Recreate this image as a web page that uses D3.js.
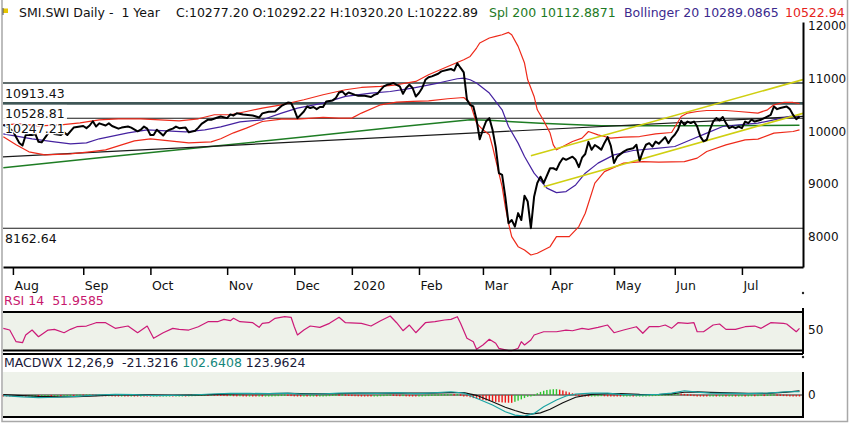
<!DOCTYPE html>
<html>
<head>
<meta charset="utf-8">
<script src="https://cdn.jsdelivr.net/npm/d3@7"></script>
<style>
body { margin: 0; background: #fff; }
svg { display: block; font-family: "DejaVu Sans", sans-serif; }
</style>
</head>
<body>
<div id="chart"></div>
<script>
// x is the trading session number, 0 = first session of Aug 2019
var monthLabels = ["Aug", "Sep", "Oct", "Nov", "Dec", "2020", "Feb", "Mar", "Apr", "May", "Jun", "Jul"];
var monthDays = [0, 22, 43, 67, 88, 106, 127, 147, 168, 188, 207, 228];
var priceTicks = [8000, 9000, 10000, 11000, 12000];

var closePts = [
[-3,10120],[-2,10100],[0,10000],[2,9780],[3,9730],[4,9930],[6,9930],[7,9950],[8,9800],[9,9790],
[11,9960],[12,10000],[13,9950],[15,9930],[16,9980],[17,9930],[19,10070],[22,10100],[23,10060],[24,10110],
[25,10190],[26,10090],[27,10150],[29,10110],[30,10150],[31,10100],[33,10050],[34,10070],[36,10090],[37,10070],
[39,10000],[40,10030],[41,10090],[42,10050],[43,9930],[44,9930],[45,10030],[47,9920],[48,10000],[49,10030],
[50,10050],[51,10090],[52,10060],[54,10070],[55,9980],[57,10010],[58,10070],[59,10140],[61,10220],[62,10220],
[64,10260],[65,10280],[67,10250],[68,10320],[69,10300],[70,10340],[72,10320],[75,10300],[77,10260],[78,10340],
[80,10370],[82,10375],[84,10480],[86,10545],[87,10535],[88,10410],[89,10250],[91,10375],[92,10470],[93,10440],
[94,10460],[95,10420],[96,10460],[97,10460],[98,10565],[100,10585],[101,10630],[102,10735],[103,10755],[104,10690],
[105,10735],[107,10690],[108,10675],[110,10675],[112,10650],[113,10690],[114,10710],[115,10785],[116,10850],[117,10880],
[118,10895],[119,10915],[120,10880],[121,10850],[122,10710],[123,10820],[124,10880],[125,10820],[126,10660],[127,10725],
[128,10820],[129,10975],[130,11025],[131,11040],[133,11090],[134,11135],[136,11165],[137,11180],[138,11150],[139,11290],
[140,11200],[141,11115],[142,10600],[143,10500],[144,10470],[145,10220],[146,9850],[147,10030],[148,10190],[149,10250],
[150,10030],[151,9700],[152,9210],[153,9175],[154,8760],[155,8260],[156,8320],[157,8195],[158,8450],[159,8320],
[160,8780],[161,8670],[162,8165],[163,8760],[164,9020],[165,9140],[166,9020],[168,9300],[169,9300],[170,9270],
[171,9400],[172,9490],[173,9460],[175,9520],[176,9460],[177,9320],[178,9500],[179,9570],[180,9800],[181,9650],
[182,9740],[183,9700],[184,9650],[185,9780],[186,9890],[187,9725],[188,9400],[189,9520],[191,9615],[192,9650],
[194,9680],[195,9745],[196,9445],[197,9615],[198,9745],[199,9775],[200,9710],[201,9805],[202,9765],[204,9890],
[205,9775],[206,9870],[207,9935],[208,10030],[209,10200],[210,10120],[211,10185],[212,10155],[213,10185],[214,10090],
[215,9900],[216,9810],[217,9840],[218,10030],[219,10185],[220,10250],[221,10205],[222,10270],[223,10155],[224,10060],
[225,10090],[226,10060],[227,10090],[228,10060],[229,10185],[230,10155],[231,10220],[232,10185],[234,10220],[235,10250],
[237,10310],[238,10470],[239,10420],[240,10440],[242,10470],[243,10420],[244,10310],[245,10230],[246,10277]
];

var upperPts = [
[-3,10123],[2,10142],[8,10104],[15,10123],[21,10161],[27,10218],[33,10237],[40,10237],[46,10218],[52,10199],
[58,10237],[63,10313],[68,10313],[73,10375],[78,10440],[84,10502],[91,10597],[97,10692],[104,10787],[109,10830],
[115,10849],[120,10881],[126,10944],[130,11071],[136,11228],[141,11355],[143,11418],[145,11577],[146,11672],[149,11767],
[151,11797],[153,11829],[155,11873],[156,11829],[158,11608],[160,11293],[161,10976],[163,10660],[164,10407],[166,10199],
[168,9966],[169,9744],[170,9649],[172,9712],[175,9806],[178,9871],[180,9996],[183,9933],[185,9901],[187,9871],
[191,9890],[196,9901],[201,9952],[206,9977],[209,10280],[211,10345],[214,10375],[217,10394],[223,10394],[227,10375],
[233,10345],[236,10407],[238,10502],[241,10546],[244,10546],[246,10523]
];

var midPts = [
[-3,9952],[6,9858],[13,9801],[18,9763],[23,9782],[27,9858],[36,9971],[42,10028],[48,10009],[54,9990],
[60,10028],[65,10085],[71,10180],[78,10218],[84,10345],[89,10440],[97,10534],[104,10660],[112,10724],[118,10754],
[125,10819],[133,10914],[139,10995],[141,11008],[143,10976],[145,10914],[149,10724],[153,10407],[155,10091],[158,9776],
[160,9522],[163,9207],[167,8923],[170,8839],[173,8858],[176,8985],[179,9207],[183,9397],[188,9554],[194,9636],
[202,9681],[207,9712],[212,9839],[217,9966],[222,10091],[227,10123],[233,10155],[238,10218],[243,10281],[246,10289]
];

var lowerPts = [
[-3,9895],[1,9744],[5,9611],[10,9554],[18,9573],[24,9611],[29,9649],[33,9725],[38,9820],[43,9858],
[49,9820],[55,9782],[62,9801],[65,9858],[69,9971],[73,10060],[78,10186],[84,10231],[89,10231],[97,10262],
[102,10250],[106,10250],[109,10345],[115,10502],[120,10553],[125,10565],[130,10578],[136,10616],[141,10640],[143,10534],
[145,10155],[147,10028],[149,9933],[150,9712],[151,9459],[153,8953],[154,8574],[155,8259],[156,8005],[158,7815],
[160,7753],[162,7658],[164,7690],[166,7753],[168,7815],[170,8005],[174,8005],[177,8195],[179,8449],[182,9018],
[185,9237],[191,9397],[197,9427],[202,9416],[210,9427],[214,9492],[217,9617],[223,9744],[229,9839],[233,9852],
[238,9966],[244,9996],[246,10028]
];

var sma200Pts = [
[-3,9308],[27,9497],[58,9687],[90,9886],[121,10085],[143,10218],[149,10208],[165,10151],[184,10104],[215,10104],[246,10113]
];

// drawn lines: long black support, yellow channel
var trendBlack = [[-3.1, 9516], [247.1, 10284]];
var yellowUpper = [[162, 9535], [247.1, 10980]];
var yellowLower = [[166, 8950], [247.1, 10340]];

var levels = [10913.43, 10528.81, 10247.21, 8162.64];

var rsiPts = [
[-3,52.1],[-1,49.9],[1,34.8],[3,33.5],[4,43.5],[6,49.9],[8,41.2],[11,49.9],[13,50.8],[16,46.4],
[18,50.8],[20,54.2],[23,55.1],[26,59.4],[29,59.4],[32,52.1],[36,55.1],[39,46.4],[42,55.1],[44,39.2],
[47,46.4],[50,52.1],[52,50.8],[55,49.9],[58,54.2],[61,60.7],[64,60.7],[66,63.8],[68,62],[69,65.1],
[71,60.7],[75,59.4],[77,53.4],[78,58.6],[80,59.4],[82,65.1],[85,67.2],[87,66.4],[88,54.2],[89,43.5],
[91,49.9],[93,55.1],[96,53.4],[99,58.6],[102,66.4],[104,59.4],[109,58.6],[112,55.1],[115,62],[118,68.1],
[120,59.4],[122,49],[124,56.4],[126,46.4],[129,59.4],[132,60.7],[135,62.9],[137,63.8],[139,67.2],[140,58.6],
[142,39.2],[144,34.8],[145,24.9],[147,30.5],[149,37.9],[151,32.7],[152,26.2],[155,23.1],[156,23.1],[158,26.2],
[159,34.8],[160,30.5],[162,37],[163,43.5],[166,47.7],[170,47.7],[173,49.9],[175,49],[178,52.1],[180,50.8],
[183,53.4],[186,56.4],[188,46.4],[191,49.9],[195,54.2],[197,45.7],[199,54.2],[202,54.2],[204,56.4],[206,52.1],
[208,59.4],[211,58.6],[213,59.4],[214,47.7],[216,47.7],[219,56.4],[221,57.7],[223,50.8],[226,50.8],[229,54.2],
[232,55.1],[234,52.1],[237,59.4],[241,58.6],[242,57.7],[245,47.7],[246,51.96]
];

var macdPts = [
[-3,-20],[3,-60],[8,-80],[14,-70],[20,-40],[26,0],[32,20],[38,10],[44,-20],[50,-10],
[56,0],[62,30],[68,50],[74,50],[80,40],[86,60],[90,30],[96,30],[102,60],[108,60],
[114,50],[120,70],[126,40],[130,60],[137,100],[141,60],[145,-100],[150,-310],[154,-520],[157,-620],
[160,-650],[163,-570],[166,-360],[170,-155],[173,-30],[176,30],[181,60],[186,60],[190,20],[196,0],
[202,20],[206,60],[210,130],[214,90],[218,60],[224,50],[230,40],[236,60],[242,100],[246,102.6]
];

var signalPts = [
[-3,10],[3,-20],[8,-45],[14,-60],[20,-55],[26,-30],[32,0],[38,10],[44,0],[50,-10],
[56,-5],[62,10],[68,30],[74,45],[80,45],[86,50],[90,45],[96,38],[102,45],[108,55],
[114,55],[120,60],[126,55],[130,55],[137,75],[141,75],[145,-10],[150,-210],[154,-380],[157,-480],
[160,-570],[162,-590],[165,-550],[168,-440],[172,-240],[176,-70],[181,20],[186,45],[190,40],[196,20],
[202,15],[206,35],[210,85],[214,95],[218,80],[224,65],[230,50],[236,50],[242,90],[246,124]
];

// histogram, one bar per session starting at session -3
var histStart = -3;
var histValues = [
-8,-18,-28,-36,-40,-38,-35,-37,-33,-28,
-24,-26,-20,-14,-10,-12,-8,-4,-6,-2,
4,8,6,12,16,14,18,20,16,12,
14,10,6,8,4,0,-4,-2,-6,-10,
-8,-12,-16,-14,-18,-22,-26,-22,-18,-20,
-16,-12,-8,-10,-6,-2,2,0,4,8,
12,16,20,24,22,26,24,20,18,14,
10,12,8,4,6,2,-2,0,-4,-8,
-6,-10,-6,-2,2,6,10,14,18,16,
12,4,-6,-10,-8,-12,-10,-6,-8,-4,
0,4,10,16,20,18,22,20,16,12,
8,4,0,-4,-6,-8,-4,0,6,10,
14,18,16,12,8,10,4,2,-2,-8,
-4,2,8,12,16,20,22,26,28,30,
32,30,34,20,-10,-40,-70,-95,-115,-130,
-150,-168,-185,-200,-212,-222,-230,-236,-240,-242,
-210,-175,-135,-95,-55,-20,15,55,95,130,
155,170,178,180,165,140,110,80,52,30,
15,5,-2,-8,-4,2,6,10,6,2,
-6,-14,-20,-24,-20,-16,-12,-14,-10,-6,
-2,2,6,10,14,18,22,26,30,34,
40,44,40,34,26,20,10,0,-10,-18,
-24,-20,-16,-18,-14,-10,-12,-8,-4,-6,
-2,2,0,4,8,6,10,14,12,16,
20,24,20,16,12,8,2,-6,-14,-21.32
];

var width = 850, height = 423;
var plotLeft = 3, plotRight = 803;

var x = d3.scaleLinear().domain([-3.1, 247.1]).range([plotLeft, plotRight]);
var y = d3.scaleLinear().domain([7430, 12070]).range([267, 22]);
var yRsi = d3.scaleLinear().domain([24, 72]).range([350, 313]);
var yMacd = d3.scaleLinear().domain([-680, 710]).range([417, 372]);

var svg = d3.select("#chart")
	.append("svg")
	.attr("width", width)
	.attr("height", height);

svg.append("defs").append("clipPath")
	.attr("id", "plotClip")
	.append("rect")
	.attr("x", plotLeft).attr("y", 22)
	.attr("width", plotRight - plotLeft).attr("height", 245);

// window frame
svg.append("path")
	.attr("d", "M2,0V421.5H847.5V0")
	.attr("fill", "none")
	.attr("stroke", "#a8a8a8")
	.attr("stroke-width", 1.5);

// title
var title = svg.append("text")
	.attr("y", 17)
	.attr("font-size", 12.5);
var titleParts = [
	{t: "SMI.SWI Daily -\u00a0\u00a01 Year", x: 19, c: "#111"},
	{t: "C:10277.20 O:10292.22 H:10320.20 L:10222.89", x: 176, c: "#111"},
	{t: "Spl 200 10112.8871", x: 489, c: "#1d7a25"},
	{t: "Bollinger 20 10289.0865", x: 624, c: "#3b2a8e"},
	{t: "10522.94", x: 785, c: "#e5231a"}
];
title.selectAll("tspan")
	.data(titleParts)
	.enter().append("tspan")
	.attr("x", function(d) { return d.x; })
	.attr("fill", function(d) { return d.c; })
	.text(function(d) { return d.t; });

// little flag
svg.append("rect").attr("x", 3).attr("y", 8.5).attr("width", 5).attr("height", 4.5).attr("fill", "#e6c600");
svg.append("line").attr("x1", 3).attr("x2", 3).attr("y1", 8).attr("y2", 15).attr("stroke", "#555").attr("stroke-width", 1);

// horizontal levels
var levelStyle = [
	{c: "#2c3c3c", w: 1.5},
	{c: "#3e5656", w: 2.6},
	{c: "#1a1a1a", w: 1.2},
	{c: "#1a1a1a", w: 1.1}
];
svg.selectAll(".level")
	.data(levels)
	.enter().append("line")
	.attr("class", "level")
	.attr("x1", plotLeft).attr("x2", plotRight)
	.attr("y1", function(d) { return y(d); })
	.attr("y2", function(d) { return y(d); })
	.attr("stroke", function(d, i) { return levelStyle[i].c; })
	.attr("stroke-width", function(d, i) { return levelStyle[i].w; });

// white box behind the upper labels
svg.selectAll(".levelBox")
	.data(levels.slice(0, 2))
	.enter().append("rect")
	.attr("x", plotLeft)
	.attr("y", function(d) { return y(d) + 1.5; })
	.attr("width", 64)
	.attr("height", 14)
	.attr("fill", "#fff");

var line = d3.line()
	.x(function(d) { return x(d[0]); })
	.y(function(d) { return y(d[1]); });

var plot = svg.append("g").attr("clip-path", "url(#plotClip)");

var series = [
	{pts: sma200Pts, c: "#1e7d24", w: 1.5},
	{pts: trendBlack, c: "#1a1a1a", w: 1.2},
	{pts: upperPts, c: "#ee2a1a", w: 1.2},
	{pts: lowerPts, c: "#ee2a1a", w: 1.2},
	{pts: midPts, c: "#4522a0", w: 1.2},
	{pts: yellowUpper, c: "#cfcf10", w: 1.6},
	{pts: yellowLower, c: "#cfcf10", w: 1.6},
	{pts: closePts, c: "#000", w: 2}
];
plot.selectAll(".series")
	.data(series)
	.enter().append("path")
	.attr("class", "series")
	.attr("d", function(d) { return line(d.pts); })
	.attr("fill", "none")
	.attr("stroke", function(d) { return d.c; })
	.attr("stroke-width", function(d) { return d.w; })
	.attr("stroke-linejoin", "round");

// level labels on top, with a white halo
svg.selectAll(".levelText")
	.data(levels)
	.enter().append("text")
	.attr("x", 5)
	.attr("y", function(d) { return y(d) + 14.5; })
	.attr("font-size", 12.5)
	.attr("fill", "#111")
	.attr("stroke", "#fff")
	.attr("stroke-width", 2.5)
	.attr("paint-order", "stroke")
	.text(function(d) { return d.toFixed(2); });

// price axes
var xAxis = d3.axisBottom(x)
	.tickValues(monthDays)
	.tickFormat(function(d, i) { return monthLabels[i]; })
	.tickSize(8)
	.tickSizeOuter(0)
	.tickPadding(6.5);
var gx = svg.append("g")
	.attr("transform", "translate(0,267)")
	.call(xAxis);
gx.select(".domain").attr("stroke", "#000").attr("stroke-width", 2);
gx.selectAll(".tick line").attr("stroke", "#000").attr("stroke-width", 1.5);
gx.selectAll(".tick text")
	.attr("text-anchor", "start")
	.attr("dx", 1)
	.attr("font-family", "DejaVu Sans")
	.attr("font-size", 12.5)
	.attr("fill", "#111");

var yAxis = d3.axisRight(y)
	.tickValues(priceTicks)
	.tickFormat(d3.format("d"))
	.tickSize(0)
	.tickSizeOuter(0)
	.tickPadding(5);
var gy = svg.append("g")
	.attr("transform", "translate(" + plotRight + ",0)")
	.call(yAxis);
gy.select(".domain").attr("stroke", "#000").attr("stroke-width", 2);
gy.selectAll(".tick text")
	.attr("font-family", "DejaVu Sans")
	.attr("font-size", 12)
	.attr("fill", "#111");

// RSI panel
svg.append("text")
	.attr("x", 4).attr("y", 305)
	.attr("font-size", 12.5)
	.attr("fill", "#c8186e")
	.text("RSI 14\u00a0\u00a051.9585");

svg.append("rect")
	.attr("x", plotLeft).attr("y", 313)
	.attr("width", plotRight - plotLeft).attr("height", 37)
	.attr("fill", "#eef2ea");

var rsiLine = d3.line()
	.x(function(d) { return x(d[0]); })
	.y(function(d) { return yRsi(d[1]); });
svg.append("path")
	.attr("d", rsiLine(rsiPts))
	.attr("fill", "none")
	.attr("stroke", "#cc1a78")
	.attr("stroke-width", 1.2)
	.attr("stroke-linejoin", "round");

[312, 350.5, 354].forEach(function(yy) {
	svg.append("line")
		.attr("x1", plotLeft).attr("x2", plotRight)
		.attr("y1", yy).attr("y2", yy)
		.attr("stroke", "#000").attr("stroke-width", 2);
});
svg.append("line")
	.attr("x1", plotRight).attr("x2", plotRight)
	.attr("y1", 308).attr("y2", 354)
	.attr("stroke", "#000").attr("stroke-width", 2);
svg.append("circle").attr("cx", plotRight).attr("cy", 293).attr("r", 1.2).attr("fill", "#222");
svg.append("circle").attr("cx", plotRight).attr("cy", 357).attr("r", 1.2).attr("fill", "#222");

var gr = svg.append("g")
	.attr("transform", "translate(" + plotRight + ",0)")
	.call(d3.axisRight(yRsi).tickValues([50]).tickSize(0).tickPadding(5));
gr.select(".domain").remove();
gr.selectAll(".tick text")
	.attr("font-family", "DejaVu Sans")
	.attr("font-size", 12)
	.attr("fill", "#111");

// MACD panel
var macdText = svg.append("text")
	.attr("x", 4).attr("y", 367)
	.attr("font-size", 12.5);
macdText.append("tspan").attr("fill", "#1a1a3a").text("MACDWX 12,26,9\u00a0\u00a0-21.3216\u00a0");
macdText.append("tspan").attr("fill", "#16877c").text("102.6408\u00a0");
macdText.append("tspan").attr("fill", "#1a1a3a").text("123.9624");

svg.append("rect")
	.attr("x", plotLeft).attr("y", 372)
	.attr("width", plotRight - plotLeft).attr("height", 45)
	.attr("fill", "#eef2ea");

svg.append("line")
	.attr("x1", plotLeft).attr("x2", plotRight)
	.attr("y1", yMacd(0)).attr("y2", yMacd(0))
	.attr("stroke", "#222").attr("stroke-width", 1.2);

svg.selectAll(".hist")
	.data(histValues)
	.enter().append("rect")
	.attr("class", "hist")
	.attr("x", function(d, i) { return x(histStart + i) - 0.7; })
	.attr("y", function(d) { return Math.min(yMacd(d), yMacd(0)); })
	.attr("width", 1.4)
	.attr("height", function(d) { return Math.max(1.5, Math.abs(yMacd(d) - yMacd(0))); })
	.attr("fill", function(d, i) {
		var prev = i > 0 ? histValues[i - 1] : 0;
		return d >= prev ? "#2ec42e" : "#f01818";
	});

var macdLine = d3.line()
	.x(function(d) { return x(d[0]); })
	.y(function(d) { return yMacd(d[1]); });
svg.append("path")
	.attr("d", macdLine(signalPts))
	.attr("fill", "none")
	.attr("stroke", "#111")
	.attr("stroke-width", 1.2);
svg.append("path")
	.attr("d", macdLine(macdPts))
	.attr("fill", "none")
	.attr("stroke", "#1aa3a3")
	.attr("stroke-width", 1.2);

svg.append("line")
	.attr("x1", plotLeft).attr("x2", plotRight)
	.attr("y1", 417).attr("y2", 417)
	.attr("stroke", "#000").attr("stroke-width", 2);
svg.append("line")
	.attr("x1", plotRight).attr("x2", plotRight)
	.attr("y1", 372).attr("y2", 418)
	.attr("stroke", "#000").attr("stroke-width", 2);

var gm = svg.append("g")
	.attr("transform", "translate(" + plotRight + ",0)")
	.call(d3.axisRight(yMacd).tickValues([0]).tickSize(0).tickPadding(5));
gm.select(".domain").remove();
gm.selectAll(".tick text")
	.attr("font-family", "DejaVu Sans")
	.attr("font-size", 12)
	.attr("fill", "#111");
</script>
</body>
</html>
